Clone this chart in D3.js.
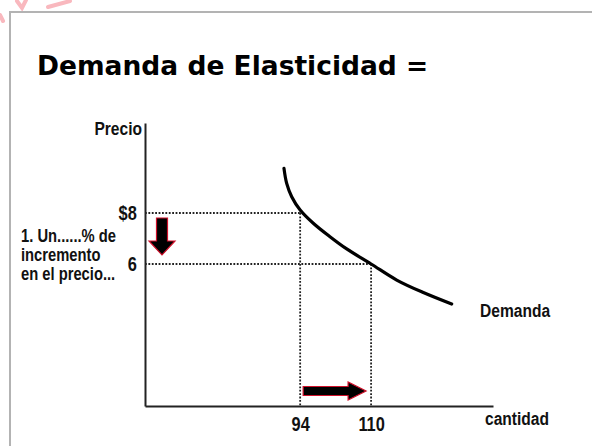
<!DOCTYPE html>
<html>
<head>
<meta charset="utf-8">
<script src="https://cdn.jsdelivr.net/npm/d3@7"></script>
<style>
  body { margin: 0; background: #fff; }
  svg { display: block; }
  .narrow { font-family: "Liberation Sans Narrow", "Arial Narrow", "Liberation Sans", Arial, sans-serif; font-weight: bold; fill: #111; }
</style>
</head>
<body>
<svg id="chart" width="592" height="446"></svg>
<script>
// chart values
const quantityTicks = [94, 110];
const priceTicks = [8, 6];
const priceLabels = ['$8', '6'];
const demandQuantity = [90.35, 90.96, 92.09, 94, 96.96, 100.73, 104.5, 110, 115.78, 121.78, 128.18];
const demandPrice = [9.75, 9.16, 8.64, 8.12, 7.6, 7.07, 6.59, 6, 5.37, 4.88, 4.43];
const noteLines = ['1. Un......% de', 'incremento', 'en el precio...'];
const titleText = 'Demanda de Elasticidad =';

const width = 592, height = 446;
const plot = { left: 145, right: 493, top: 123, bottom: 406 };
const squeeze = 0.82; // no Arial Narrow installed, so condense Liberation Sans

const svg = d3.select('#chart');

// faint watermark strokes and slide frame
const marks = svg.append('g').attr('stroke', '#f9b8be').attr('stroke-width', 4)
    .attr('stroke-linecap', 'round').attr('fill', 'none');
marks.append('path').attr('d', 'M0,15 L3,21');
marks.append('path').attr('d', 'M17,1 L22,8 L26,0');
marks.append('path').attr('d', 'M48,7 L70,1');

svg.append('path')
    .attr('d', `M10,${height} V12 H${width}`)
    .attr('fill', 'none')
    .attr('stroke', '#b3b3b3')
    .attr('stroke-width', 2);

svg.append('text')
    .attr('x', 37)
    .attr('y', 75)
    .attr('font-family', '"DejaVu Sans", Verdana, sans-serif')
    .attr('font-weight', 'bold')
    .attr('font-size', 26.5)
    .attr('fill', '#000')
    .text(titleText);

// scales
const x = d3.scaleLinear().domain([59, 137.5]).range([plot.left, plot.right]);
const y = d3.scaleLinear().domain([0.43, 11.53]).range([plot.bottom, plot.top]);

// dotted guides
const guides = svg.append('g')
    .attr('stroke', '#222')
    .attr('stroke-width', 1.8)
    .attr('stroke-dasharray', '1.8,1.6')
    .attr('fill', 'none');
quantityTicks.forEach((q, i) => {
    const p = priceTicks[i];
    guides.append('line')
        .attr('x1', plot.left).attr('x2', x(q))
        .attr('y1', y(p)).attr('y2', y(p));
    guides.append('line')
        .attr('x1', x(q)).attr('x2', x(q))
        .attr('y1', y(p)).attr('y2', plot.bottom);
});

// axes
const yAxis = d3.axisLeft(y)
    .tickValues(priceTicks)
    .tickSize(0)
    .tickSizeOuter(0)
    .tickPadding(10)
    .tickFormat((d, i) => priceLabels[i]);
const yAxisGroup = svg.append('g')
    .attr('transform', `translate(${plot.left},0)`)
    .call(yAxis);

const xAxis = d3.axisBottom(x)
    .tickValues(quantityTicks)
    .tickSize(0)
    .tickSizeOuter(0)
    .tickPadding(11);
const xAxisGroup = svg.append('g')
    .attr('transform', `translate(0,${plot.bottom})`)
    .call(xAxis);

[yAxisGroup, xAxisGroup].forEach((g) => {
    g.select('.domain').attr('stroke', '#222').attr('stroke-width', 2);
    g.selectAll('text')
        .attr('class', 'narrow')
        .attr('font-size', 20)
        .attr('fill', '#111')
        .attr('transform', `scale(${squeeze},1)`);
});

// demand curve
const line = d3.line()
    .x((d) => x(d))
    .y((d, i) => y(demandPrice[i]))
    .curve(d3.curveCatmullRom.alpha(0.5));

svg.append('path')
    .attr('d', line(demandQuantity))
    .attr('fill', 'none')
    .attr('stroke', '#000')
    .attr('stroke-width', 3.2)
    .attr('stroke-linecap', 'round');

// arrows
const downX = plot.left + 17;
const downTop = y(priceTicks[0]) + 5;
const downTip = y(priceTicks[1]) - 9;
const downArrow = [
    [downX - 5.5, downTop], [downX + 5.5, downTop], [downX + 5.5, downTip - 14],
    [downX + 13, downTip - 14], [downX, downTip], [downX - 13, downTip - 14],
    [downX - 5.5, downTip - 14],
];
const rightY = plot.bottom - 15;
const rightStart = x(quantityTicks[0]) + 3;
const rightTip = x(quantityTicks[1]) - 5;
const rightArrow = [
    [rightStart, rightY - 4.5], [rightTip - 18, rightY - 4.5], [rightTip - 18, rightY - 9],
    [rightTip, rightY], [rightTip - 18, rightY + 9], [rightTip - 18, rightY + 4.5],
    [rightStart, rightY + 4.5],
];
[downArrow, rightArrow].forEach((pts) => {
    svg.append('polygon')
        .attr('points', pts.map((p) => p.join(',')).join(' '))
        .attr('fill', '#000')
        .attr('stroke', '#d0102a')
        .attr('stroke-width', 1.2);
});

// labels
const label = (txt, lx, ly, size, anchor) => svg.append('text')
    .attr('class', 'narrow')
    .attr('transform', `translate(${lx},${ly}) scale(${squeeze},1)`)
    .attr('text-anchor', anchor || 'start')
    .attr('font-size', size)
    .text(txt);

label('Precio', plot.left - 3, 135, 19, 'end');
label('cantidad', 485, 425, 19);
label('Demanda', 480, 317, 19);
noteLines.forEach((d, i) => label(d, 21, 242 + i * 19, 18));
</script>
</body>
</html>
